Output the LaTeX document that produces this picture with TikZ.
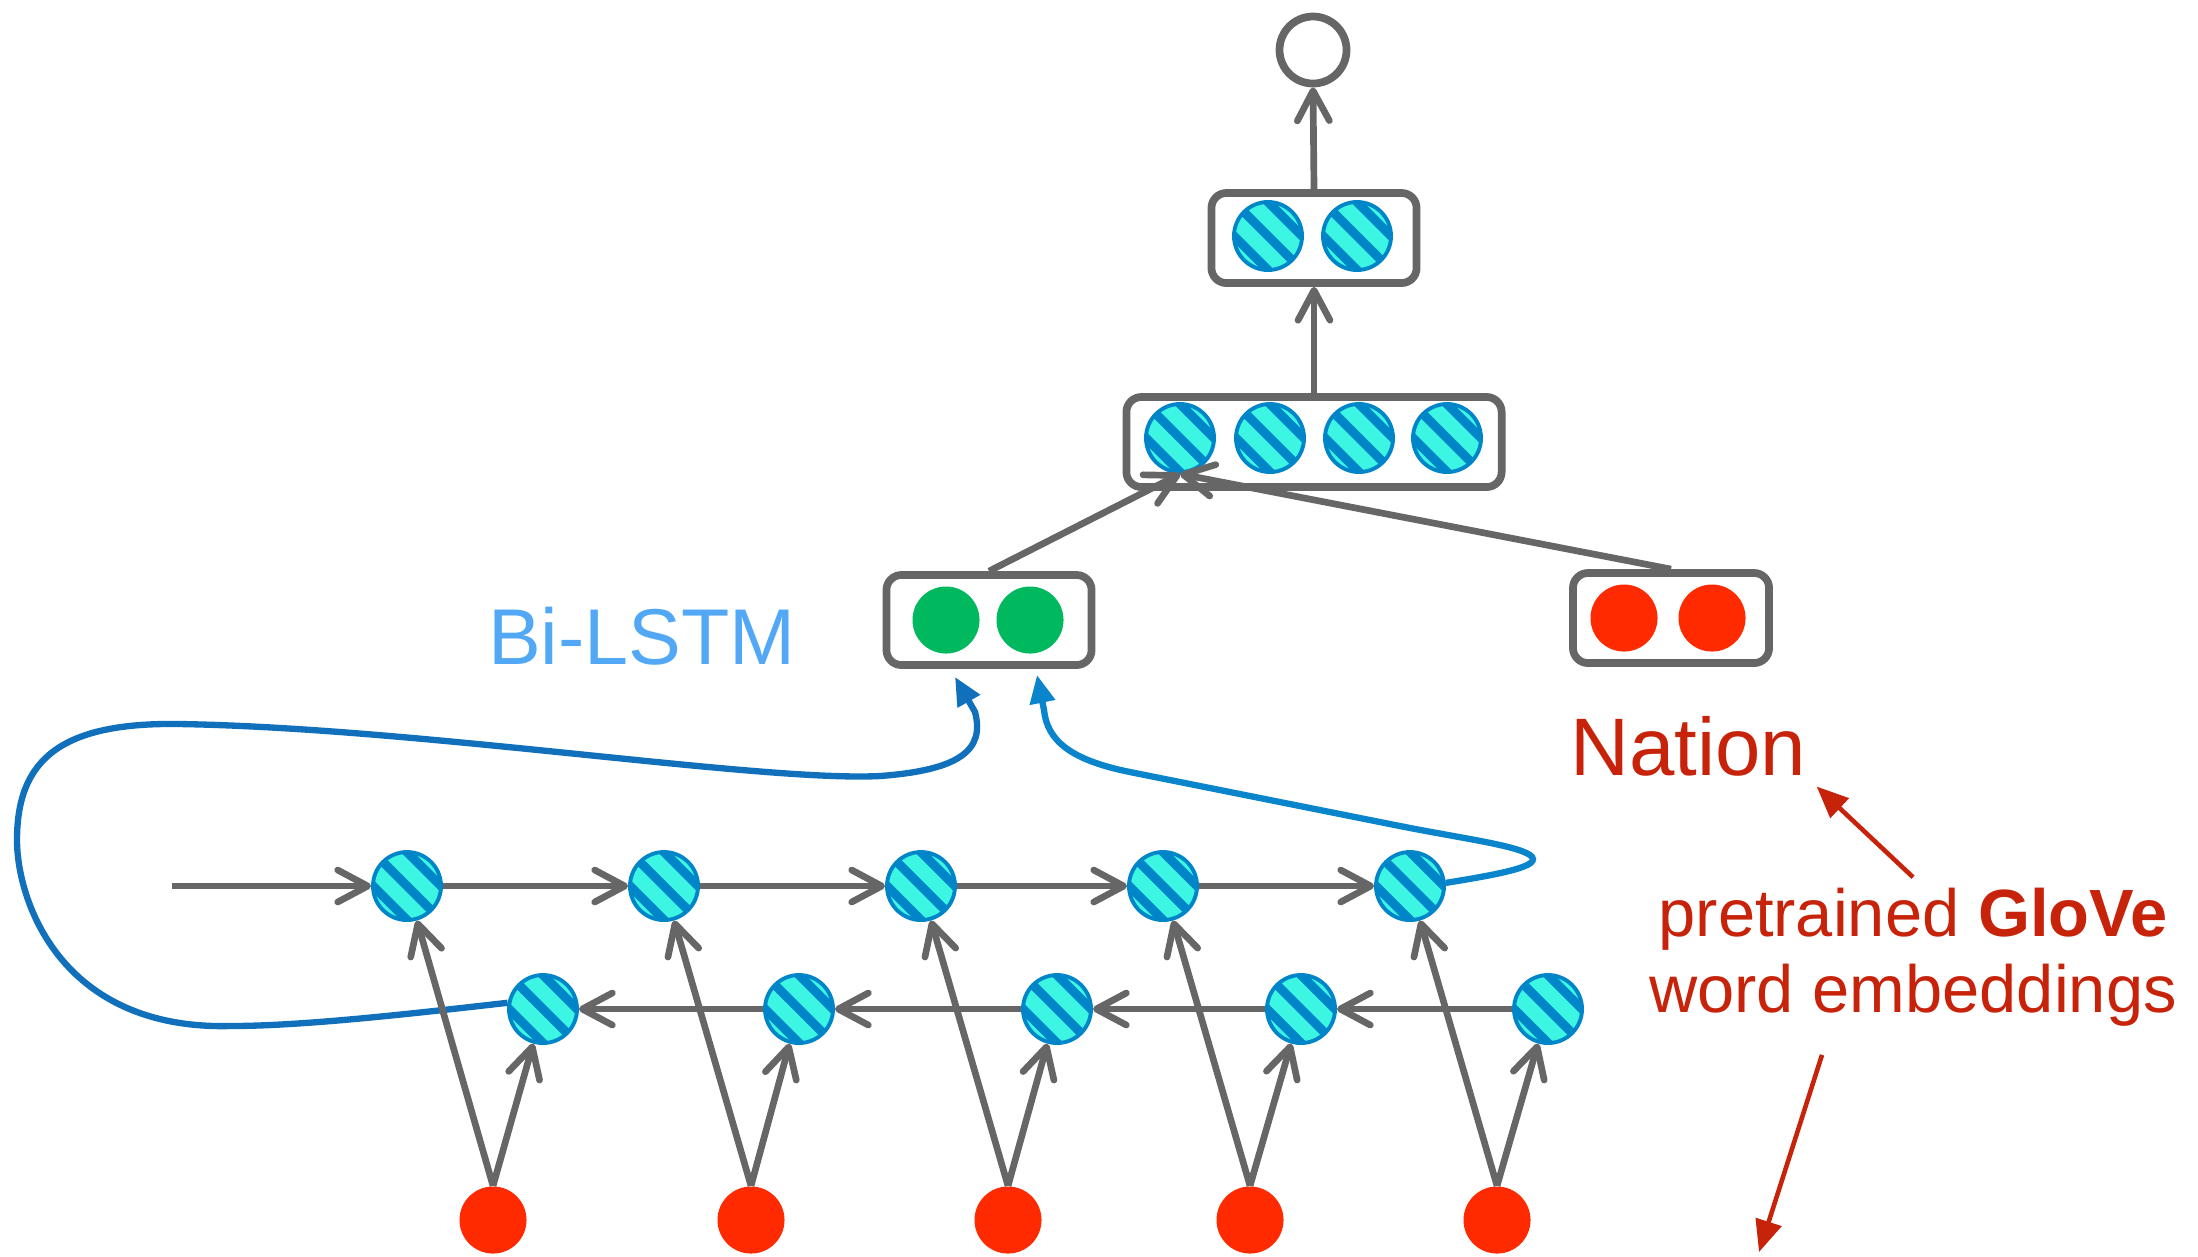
\documentclass[tikz,border=0pt]{standalone}
\usepackage{fontspec}
\setmainfont{Liberation Sans}
\usetikzlibrary{arrows.meta}

\definecolor{edgegray}{HTML}{666666}
\definecolor{aqua}{HTML}{3CF5E2}
\definecolor{stripe}{HTML}{0085C9}
\definecolor{inred}{HTML}{FF2A00}
\definecolor{lstmgreen}{HTML}{00B95F}
\definecolor{labred}{HTML}{C7230A}
\definecolor{lablue}{HTML}{52A8F5}
\definecolor{bwdblue}{HTML}{1170BB}
\definecolor{fwdblue}{HTML}{0A85CC}

\tikzset{
  hatched/.style={circle, draw=stripe, fill=aqua, line width=1.1pt,
    minimum size=0.68cm, inner sep=0pt,
    path picture={
      \foreach \d/\e in {-17/17, 0/0, 17/-17}
        \draw[stripe, line width=2.6pt, shift={(path picture bounding box.center)}]
          (\d,\e) ++(-50,-50) -- ++(100,100);
    }},
  vecbox/.style={draw=edgegray, line width=2.2pt, rounded corners=0.15cm,
    minimum height=0.9cm, inner sep=0pt},
  dot/.style={circle, inner sep=0pt, minimum size=0.67cm},
}

\begin{document}
\begin{tikzpicture}[x=0.01cm, y=-0.01cm,
    >={Straight Barb[length=3mm, width=3.2mm, round]}]

      \useasboundingbox (0,0) rectangle (2198,1256);

      \begin{scope}[every node/.style={vecbox}]
        \node[minimum width=2.05cm] (out2)   at (1314,238) {};
        \node[minimum width=3.75cm] (hid)    at (1314,442) {};
        \node[minimum width=2.05cm] (bilstm) at (989,620)  {};
        \node[minimum width=1.96cm] (emb)    at (1671,618) {};
      \end{scope}

      \node[circle, draw=edgegray, fill=white, line width=2.2pt,
        minimum size=0.67cm] (y) at (1313,50) {};

      \begin{scope}[every node/.style={hatched}]
        \node (o1) at (1268,236) {};
        \node (o2) at (1357,236) {};
        \node (v1) at (1180,438) {};
        \node (v2) at (1270,438) {};
        \node (v3) at (1359,438) {};
        \node (v4) at (1447,438) {};
        \node (f1) at (407,886)  {};
        \node (f2) at (664,886)  {};
        \node (f3) at (921,886)  {};
        \node (f4) at (1163,886) {};
        \node (f5) at (1410,886) {};
        \node (b1) at (543,1009)  {};
        \node (b2) at (799,1009)  {};
        \node (b3) at (1057,1009) {};
        \node (b4) at (1301,1009) {};
        \node (b5) at (1548,1009) {};
      \end{scope}

      \begin{scope}[every node/.style={dot, fill=inred}]
        \node (x1) at (493,1220)  {};
        \node (x2) at (751,1220)  {};
        \node (x3) at (1008,1220) {};
        \node (x4) at (1250,1220) {};
        \node (x5) at (1497,1220) {};
        \node (e1) at (1624,618)  {};
        \node (e2) at (1712,618)  {};
      \end{scope}

      \begin{scope}[every node/.style={dot, fill=lstmgreen}]
        \node (g1) at (946,620)  {};
        \node (g2) at (1030,620) {};
      \end{scope}

      \node[lablue, anchor=base, inner sep=0pt,
        font=\fontsize{22.5pt}{27pt}\selectfont] (lbl) at (642,664) {Bi-LSTM};
      \node[labred, anchor=base, inner sep=0.1cm,
        font=\fontsize{23.2pt}{27pt}\selectfont] (nation) at (1688,775) {Nation};
      \node[labred, align=center, inner sep=0.1cm,
        font=\fontsize{19pt}{21.6pt}\selectfont] (glove) at (1913,957)
        {pretrained \textbf{GloVe}\\word embeddings};
      \coordinate (start) at (172,886);
      \coordinate (low)   at (1759,1252);

      \begin{scope}[line width=1.8pt, -{Triangle[length=8pt, width=7pt]}]
        \draw[bwdblue] (b1.170) .. controls (400,1015) and (300,1026) .. (230,1026)
          .. controls (60,1030) and (17,900) .. (17,840)
          .. controls (17,760) and (60,722) .. (180,724)
          .. controls (420,728) and (760,782) .. (880,776)
          .. controls (960,770) and (985,750) .. (975,712)
          -- ([shift={(-34,8)}]bilstm.south);
        \draw[fwdblue] (f5.5) .. controls (1500,874) and (1545,866) .. (1530,855)
          .. controls (1515,845) and (1460,838) .. (1400,826) -- (1130,772)
          .. controls (1070,760) and (1047,740) .. (1044,710)
          -- ([shift={(48,6)}]bilstm.south);
      \end{scope}

      \begin{scope}[edgegray, line width=1.9pt]
        \begin{scope}[every edge/.style={draw, ->}]
          \path (start) edge (f1);
          \path (f1) edge (f2);
          \path (f2) edge (f3);
          \path (f3) edge (f4);
          \path (f4) edge (f5);
          \path (b5) edge (b4);
          \path (b4) edge (b3);
          \path (b3) edge (b2);
          \path (b2) edge (b1);
          \path (x1.north) edge (f1);
          \path (x1.north) edge (b1);
          \path (x2.north) edge (f2);
          \path (x2.north) edge (b2);
          \path (x3.north) edge (f3);
          \path (x3.north) edge (b3);
          \path (x4.north) edge (f4);
          \path (x4.north) edge (b4);
          \path (x5.north) edge (f5);
          \path (x5.north) edge (b5);
          \path (bilstm.north) edge (v1.south);
          \path (emb.north)    edge (v1.south);
          \path (hid.north)    edge (out2.south);
          \path (out2.north)   edge (y.south);
        \end{scope}
      \end{scope}

      \begin{scope}[labred, line width=1.3pt, -{Triangle[length=9pt, width=7.5pt]}]
        \draw (glove.north) -- (nation.south east);
        \draw ([shift={(-91,18)}]glove.south) -- (low);
      \end{scope}

    \end{tikzpicture}
\end{document}
